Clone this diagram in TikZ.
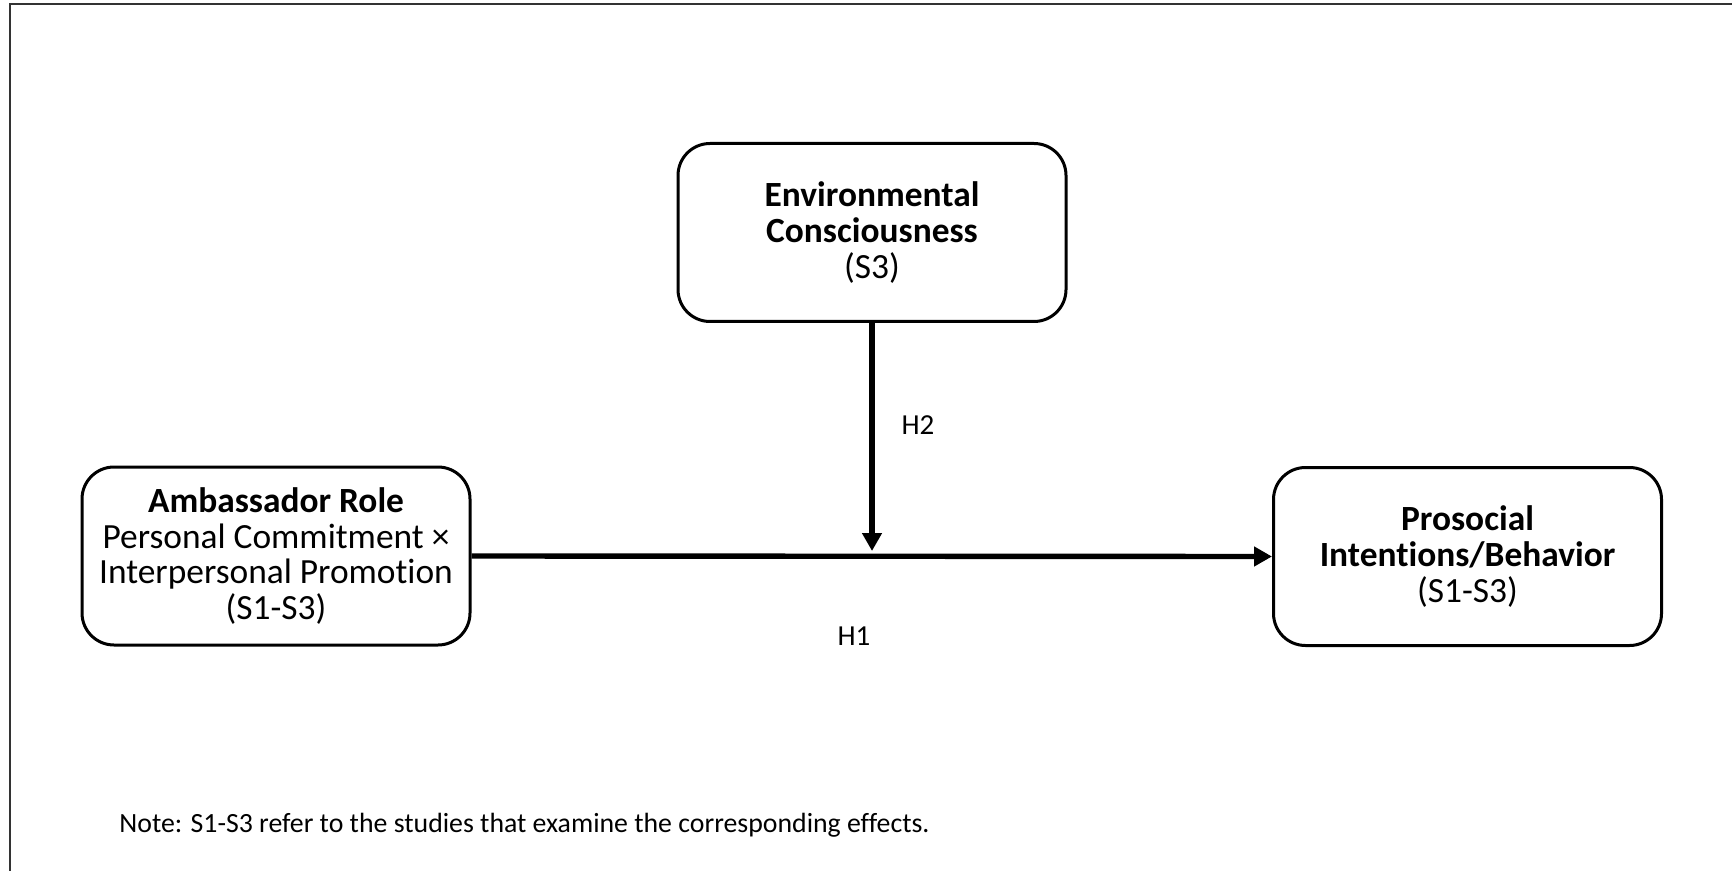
\documentclass[tikz,border=0pt]{standalone}
\usepackage{fontspec}
\setmainfont[Ligatures=NoCommon]{Carlito}
\usetikzlibrary{arrows.meta}
\begin{document}
\begin{tikzpicture}[x=0.5pt,y=-0.5pt,
  varbox/.style={draw=black, line width=1.5pt, rounded corners=16pt,
    minimum width=194pt, minimum height=89pt, align=center, inner sep=0pt,
    font=\fontsize{17.7}{17.8}\selectfont},
  link/.style={line width=2.7pt, -{Triangle[length=9pt,width=9.5pt]}},
  lab/.style={font=\fontsize{14.5}{16}\selectfont, inner sep=0pt}
]
\useasboundingbox (0,0) rectangle (1732,871);
\draw[line width=1pt, black!80] (10,871) -- (10,4) -- (1732,4);

\node[varbox] (amb) at (276,556) {\textbf{Ambassador Role}\\Personal Commitment ×\\Interpersonal Promotion\\(S1-S3)};
\node[varbox] (env) at (872,232.5) {\textbf{Environmental}\\\textbf{Consciousness}\\(S3)};
\node[varbox] (pro) at (1467.5,556.5) {\textbf{Prosocial}\\\textbf{Intentions/Behavior}\\(S1-S3)};

\coordinate (meet) at (env.south |- amb.east);
\draw[link] (amb.east) -- (pro.west);
\draw[link] (env.south) -- ([yshift=2.5pt]meet);

\node[lab] (h2) at (918,425) {H2};
\node[lab] (h1) at (854,636) {H1};
\node[lab, anchor=west, font=\fontsize{13.9}{16}\selectfont] (note) at (119,825) {Note: S1-S3 refer to the studies that examine the corresponding effects.};
\end{tikzpicture}
\end{document}
